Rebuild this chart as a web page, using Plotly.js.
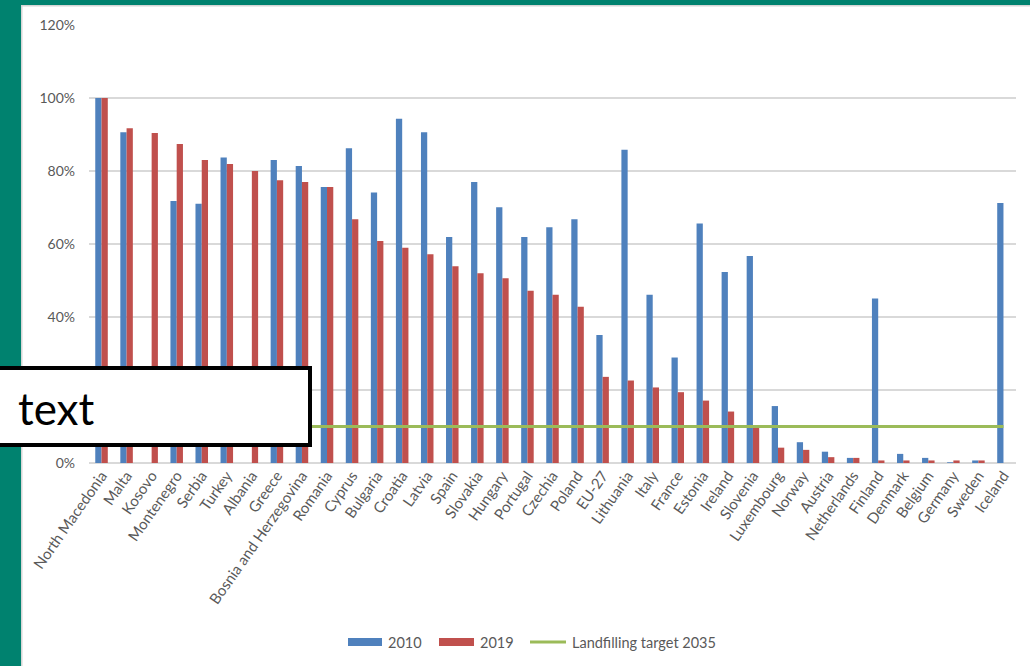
<!DOCTYPE html>
<html>
<head>
<meta charset="utf-8">
<script src="https://cdn.plot.ly/plotly-3.0.1.min.js"></script>
<style>
  html, body { margin: 0; padding: 0; background: #ffffff; }
  #chart { width: 1030px; height: 666px; }
</style>
</head>
<body>
<div id="chart"></div>
<script>
// Share of municipal waste landfilled, by country (%)
const countries = [
  'North Macedonia', 'Malta', 'Kosovo', 'Montenegro', 'Serbia', 'Turkey', 'Albania',
  'Greece', 'Bosnia and Herzegovina', 'Romania', 'Cyprus', 'Bulgaria', 'Croatia',
  'Latvia', 'Spain', 'Slovakia', 'Hungary', 'Portugal', 'Czechia', 'Poland', 'EU-27',
  'Lithuania', 'Italy', 'France', 'Estonia', 'Ireland', 'Slovenia', 'Luxembourg',
  'Norway', 'Austria', 'Netherlands', 'Finland', 'Denmark', 'Belgium', 'Germany',
  'Sweden', 'Iceland'
];

const values2010 = [
  100, 90.6, null, 71.8, 71.0, 83.7, null,
  83.0, 81.4, 75.6, 86.2, 74.1, 94.3,
  90.6, 61.9, 77.0, 70.1, 61.9, 64.6, 66.8, 35.1,
  85.8, 46.1, 28.9, 65.6, 52.3, 56.7, 15.6,
  5.7, 3.1, 1.4, 45.1, 2.5, 1.4, 0.2,
  0.7, 71.2
];

const values2019 = [
  100, 91.7, 90.4, 87.4, 83.0, 81.9, 80.0,
  77.5, 77.0, 75.6, 66.8, 60.8, 59.0,
  57.2, 53.9, 52.0, 50.6, 47.2, 46.1, 42.8, 23.6,
  22.6, 20.7, 19.4, 17.1, 14.1, 9.7, 4.2,
  3.6, 1.6, 1.4, 0.7, 0.7, 0.7, 0.7,
  0.7, null
];

const target2035 = [
  10, 10, 10, 10, 10, 10, 10,
  10, 10, 10, 10, 10, 10,
  10, 10, 10, 10, 10, 10, 10, 10,
  10, 10, 10, 10, 10, 10, 10,
  10, 10, 10, 10, 10, 10, 10,
  10, 10
];

const seriesNames = ['2010', '2019', 'Landfilling target 2035'];
const yTickValues = [0, 20, 40, 60, 80, 100, 120];
const yTickLabels = ['0%', '20%', '40%', '60%', '80%', '100%', '120%'];
const boxLabel = 'text';

// colours
const BLUE = '#4f81bd';
const RED = '#c0504d';
const GREEN = '#9bbb59';
const TEAL = '#00826f';
const GRID = '#d9d9d9';
const LABEL = '#595959';
const FONT = 'Lato, "Open Sans", sans-serif';

// plot area in pixels (used to place decorations in paper units)
const W = 1030, H = 666;
const M = { l: 89, r: 14, t: 25, b: 203 };
const PW = W - M.l - M.r, PH = H - M.t - M.b;
const px = v => (v - M.l) / PW;
const py = v => (H - M.b - v) / PH;

const traces = [
  {
    type: 'bar', name: seriesNames[0], x: countries, y: values2010,
    marker: { color: BLUE }, hoverinfo: 'x+y'
  },
  {
    type: 'bar', name: seriesNames[1], x: countries, y: values2019,
    marker: { color: RED }, hoverinfo: 'x+y'
  },
  {
    type: 'scatter', mode: 'lines', name: seriesNames[2], x: countries, y: target2035,
    line: { color: GREEN, width: 3 }, hoverinfo: 'x+y'
  }
];

const rect = (x0, y0, x1, y1, fill, line) => ({
  type: 'rect', xref: 'paper', yref: 'paper',
  x0: px(x0), x1: px(x1), y0: py(y0), y1: py(y1),
  fillcolor: fill, line: line || { width: 0 }, layer: 'above'
});

const shapes = [
  // frame around the slide area
  rect(0, 0, 21, H, TEAL),
  rect(0, 0, W, 5, TEAL),
  rect(21, 5, W, 6.5, '#d6d6d6'),
  rect(21, 5, 22.5, H, '#d6d6d6'),
  // legend swatches
  rect(348, 638, 382, 646, BLUE),
  rect(439, 638, 474, 646, RED),
  {
    type: 'line', xref: 'paper', yref: 'paper',
    x0: px(530), x1: px(566), y0: py(642), y1: py(642),
    line: { color: GREEN, width: 3 }, layer: 'above'
  },
  // label box
  rect(-6, 368, 310, 445, '#ffffff', { color: '#000000', width: 4 })
];

const legendFont = { family: FONT, size: 14.5, color: LABEL };
const annotations = [
  { text: seriesNames[0], x: px(386), y: py(642) },
  { text: seriesNames[1], x: px(478), y: py(642) },
  { text: seriesNames[2], x: px(570), y: py(642) }
].map(a => Object.assign(a, {
  xref: 'paper', yref: 'paper', xanchor: 'left', yanchor: 'middle',
  showarrow: false, font: legendFont
}));

annotations.push({
  text: boxLabel, xref: 'paper', yref: 'paper',
  x: px(16), y: py(408), xanchor: 'left', yanchor: 'middle',
  showarrow: false,
  font: { family: FONT, size: 44, color: '#000000' }
});

const layout = {
  width: W, height: H,
  margin: M,
  paper_bgcolor: '#ffffff',
  plot_bgcolor: '#ffffff',
  showlegend: false,
  barmode: 'group',
  bargap: 0.5,
  bargroupgap: 0,
  font: { family: FONT, color: LABEL },
  xaxis: {
    type: 'category',
    tickangle: -55,
    tickfont: { size: 15, color: LABEL },
    showgrid: false,
    showline: false,
    zeroline: false,
    ticks: '',
    fixedrange: true
  },
  yaxis: {
    range: [0, 120],
    tickmode: 'array',
    tickvals: yTickValues,
    ticktext: yTickLabels,
    tickfont: { size: 14, color: LABEL },
    showgrid: true,
    gridcolor: GRID,
    gridwidth: 1.3,
    zeroline: true,
    zerolinecolor: GRID,
    zerolinewidth: 1.3,
    showline: false,
    ticks: '',
    ticklabelstandoff: 13,
    fixedrange: true
  },
  shapes: shapes,
  annotations: annotations
};

Plotly.newPlot('chart', traces, layout, { displayModeBar: false, staticPlot: true });
</script>
</body>
</html>
